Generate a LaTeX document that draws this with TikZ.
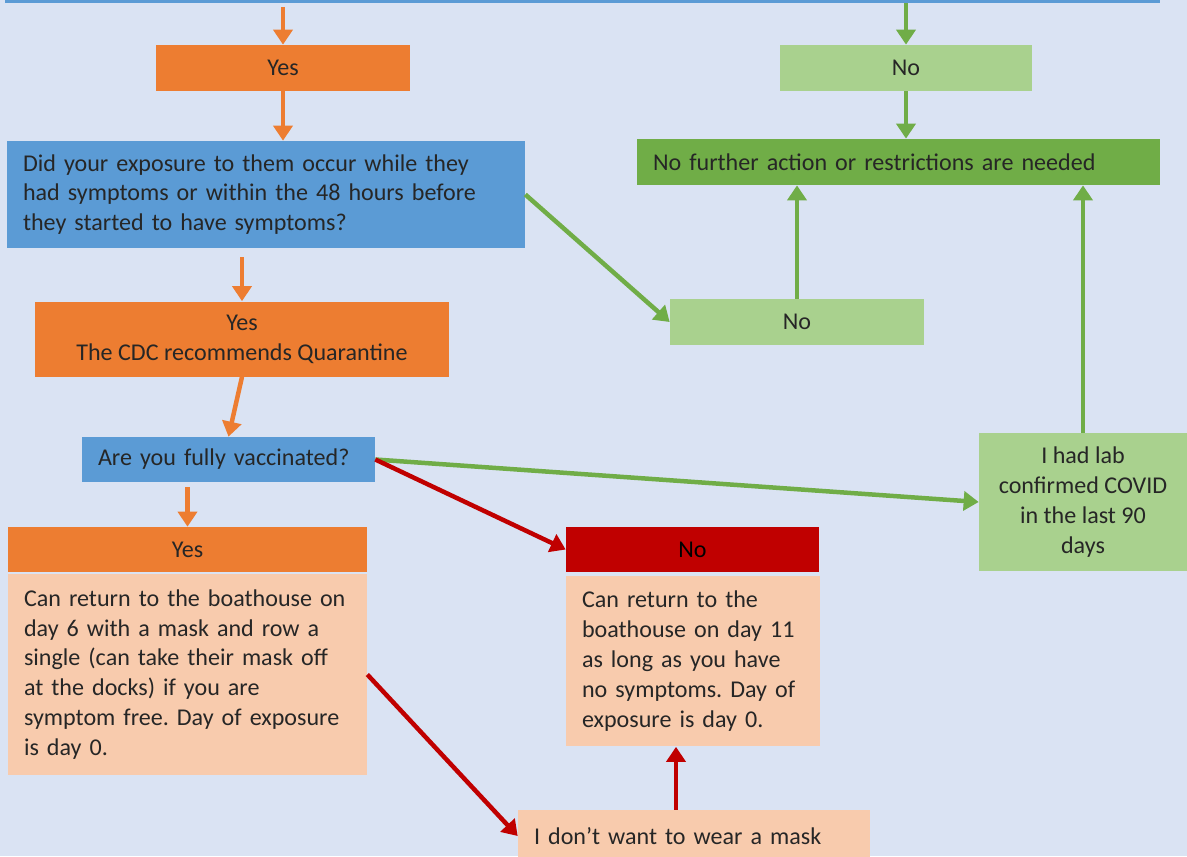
\documentclass[tikz,border=0pt]{standalone}
\usepackage{fontspec}
\setmainfont{Carlito}
\usepackage{tikz}
\usetikzlibrary{arrows.meta, calc}
\usepackage{xcolor}
\definecolor{pageblue}{HTML}{DAE3F3}
\definecolor{askblue}{HTML}{5B9BD5}
\definecolor{yesorange}{HTML}{ED7D31}
\definecolor{nolight}{HTML}{A9D18E}
\definecolor{nodark}{HTML}{70AD47}
\definecolor{stopred}{HTML}{C00000}
\definecolor{peach}{HTML}{F8CBAD}
\definecolor{txt}{HTML}{262626}
\frenchspacing

\begin{document}
\begin{tikzpicture}[
x=0.02cm, y=-0.02cm,
box/.style={rectangle, inner xsep=0.32cm, inner ysep=0pt, text=txt, font=\fontsize{13.7}{17}\selectfont},
lbox/.style={box, align=left},
cbox/.style={box, align=center},
arrow/.style={line width=0.09cm, -{Triangle[length=0.3cm, width=0.38cm]}}
]

\useasboundingbox (0,0) rectangle (1187,856);
\fill[pageblue] (0,0) rectangle (1187,856);
\clip (0,0) rectangle (1187,856);

% question boxes
\node (topq) [box, fill=askblue, minimum width=23.1cm, minimum height=0.46cm] at (582.5,-8.5) {};
\node (q1) [lbox, fill=askblue, minimum width=10.36cm, text width=9.72cm, minimum height=2.14cm] at (266,194.5)
  {Did your exposure to them occur while they\\had symptoms or within the 48 hours before\\they started to have symptoms?};
\node (vacc) [lbox, fill=askblue, minimum width=5.86cm, text width=5.22cm, minimum height=0.9cm] at (228.5,459.5)
  {Are you fully vaccinated?};

% yes side
\node (yes1) [cbox, fill=yesorange, minimum width=5.08cm, minimum height=0.92cm] at (283,68) {Yes};
\node (yes2) [cbox, fill=yesorange, minimum width=8.28cm, minimum height=1.5cm] at (242,339)
  {Yes\\The CDC recommends Quarantine};
\node (yesc) [cbox, fill=yesorange, minimum width=7.18cm, minimum height=0.9cm] at (187.5,549.5) {Yes};
\node (yescbody) [lbox, fill=peach, minimum width=7.18cm, text width=6.54cm, minimum height=4.02cm] at (187.5,674.5)
  {Can return to the boathouse on\\day 6 with a mask and row a\\single (can take their mask off\\at the docks) if you are\\symptom free. Day of exposure\\is day 0.};

% no side
\node (no1) [cbox, fill=nolight, minimum width=5.04cm, minimum height=0.92cm] at (906,68) {No};
\node (nofurther) [lbox, fill=nodark, minimum width=10.46cm, text width=9.82cm, minimum height=0.92cm] at (898.5,162)
  {No further action or restrictions are needed};
\node (no2) [cbox, fill=nolight, minimum width=5.08cm, minimum height=0.92cm] at (797,322) {No};
\node (lab) [cbox, fill=nolight, minimum width=4.16cm, minimum height=2.76cm] at (1083,502)
  {I had lab\\confirmed COVID\\in the last 90\\days};
\node (nor) [cbox, fill=stopred, text=black, minimum width=5.06cm, minimum height=0.9cm] at (692.5,549.5) {No};
\node (norbody) [lbox, fill=peach, minimum width=5.08cm, text width=4.44cm, minimum height=3.42cm] at (693,661)
  {Can return to the\\boathouse on day 11\\as long as you have\\no symptoms. Day of\\exposure is day 0.};
\node (mask) [lbox, fill=peach, minimum width=7.04cm, text width=6.4cm, minimum height=1.04cm] at (694,836)
  {I don’t want to wear a mask};

% connectors
\draw[arrow, yesorange, shorten <=2pt] (topq.south -| yes1.north) -- (yes1.north);
\draw[arrow, nodark] (topq.south -| no1.north) -- (no1.north);
\draw[arrow, yesorange] (yes1.south) -- (yes1.south |- q1.north);
\draw[arrow, nodark] (no1.south) -- (no1.south |- nofurther.north);
\draw[arrow, nodark] (q1.east) -- (no2.west);
\draw[arrow, yesorange, shorten <=0.18cm] (q1.south -| yes2.north) -- (yes2.north);
\draw[arrow, nodark] (no2.north) -- (no2.north |- nofurther.south);
\draw[arrow, yesorange] (yes2.south) -- (vacc.north);
\draw[arrow, nodark] (lab.north) -- (lab.north |- nofurther.south);
\draw[arrow, nodark] (vacc.east) -- (lab.west);
\draw[arrow, stopred] (vacc.east) -- (nor.west);
\draw[arrow, yesorange, shorten <=0.1cm] (vacc.south -| yesc.north) -- (yesc.north);
\draw[arrow, stopred] (yescbody.east) -- (mask.west);
\draw[arrow, stopred] ([xshift=-0.36cm]mask.north) -- ([xshift=-0.36cm]mask.north |- norbody.south);

\end{tikzpicture}
\end{document}
